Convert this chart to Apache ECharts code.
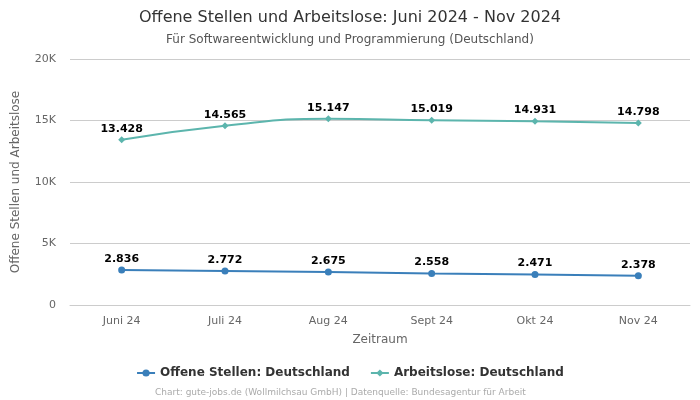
<!DOCTYPE html>
<html><head><meta charset="utf-8">
<script src="https://cdn.jsdelivr.net/npm/echarts@6/dist/echarts.min.js"></script>
<style>html,body{margin:0;padding:0;background:#fff}#c{width:700px;height:400px}</style>
</head><body><div id="c"></div>
<script>
var categories = ['Juni 24','Juli 24','Aug 24','Sept 24','Okt 24','Nov 24'];
var offeneStellen = [2836, 2772, 2675, 2558, 2471, 2378];
var arbeitslose = [13428, 14565, 15147, 15019, 14931, 14798];
var seriesNames = ['Offene Stellen: Deutschland', 'Arbeitslose: Deutschland'];

function de(v){ return String(v).replace(/\B(?=(\d{3})+(?!\d))/g, '.'); }
var font = 'DejaVu Sans';
var chart = echarts.init(document.getElementById('c'), null, {renderer:'canvas'});
chart.setOption({
  animation:false,
  textStyle:{fontFamily:font},
  title:{
    text:'Offene Stellen und Arbeitslose: Juni 2024 - Nov 2024',
    subtext:'Für Softwareentwicklung und Programmierung (Deutschland)',
    left:'center', top:5, itemGap:8,
    textStyle:{fontFamily:font,fontSize:16,fontWeight:'normal',color:'#333'},
    subtextStyle:{fontFamily:font,fontSize:12,color:'#555'}
  },
  legend:{
    bottom:16, itemGap:20, itemWidth:18, itemHeight:9,
    textStyle:{fontFamily:font,fontSize:12,fontWeight:'bold',color:'#333'},
    data:seriesNames
  },
  graphic:[{type:'text',left:155,bottom:3,style:{text:'Chart: gute-jobs.de (Wollmilchsau GmbH) | Datenquelle: Bundesagentur für Arbeit',fill:'#aaa',font:'9px '+font}}],
  grid:{left:70,right:10,top:59,bottom:95},
  xAxis:{
    type:'category', data:categories,
    name:'Zeitraum', nameLocation:'middle', nameGap:29,
    nameTextStyle:{fontFamily:font,fontSize:12,color:'#666'},
    axisLine:{lineStyle:{color:'#ccc'}}, axisTick:{show:false},
    axisLabel:{fontFamily:font,fontSize:11,color:'#666',margin:11}
  },
  yAxis:{
    type:'value', min:0, max:20000, interval:5000,
    name:'Offene Stellen und Arbeitslose', nameLocation:'middle', nameGap:48,
    nameTextStyle:{fontFamily:font,fontSize:12,color:'#666'},
    axisLabel:{fontFamily:font,fontSize:11,color:'#666',margin:14,formatter:function(v){return v===0?'0':(v/1000)+'K';}},
    splitLine:{lineStyle:{color:'#ccc'}}
  },
  series:[
    {name:seriesNames[0],type:'line',data:offeneStellen,smooth:true,symbol:'circle',symbolSize:7,
     itemStyle:{color:'#3a7fba'},lineStyle:{width:2,color:'#3a7fba'},
     label:{show:true,position:'top',distance:2,fontFamily:font,fontSize:11,fontWeight:'bold',color:'#000',formatter:function(p){return de(p.value);}}},
    {name:seriesNames[1],type:'line',data:arbeitslose,smooth:true,symbol:'diamond',symbolSize:7,
     itemStyle:{color:'#5cb5ad'},lineStyle:{width:2,color:'#5cb5ad'},
     label:{show:true,position:'top',distance:2,fontFamily:font,fontSize:11,fontWeight:'bold',color:'#000',formatter:function(p){return de(p.value);}}}
  ]
});
</script></body></html>
